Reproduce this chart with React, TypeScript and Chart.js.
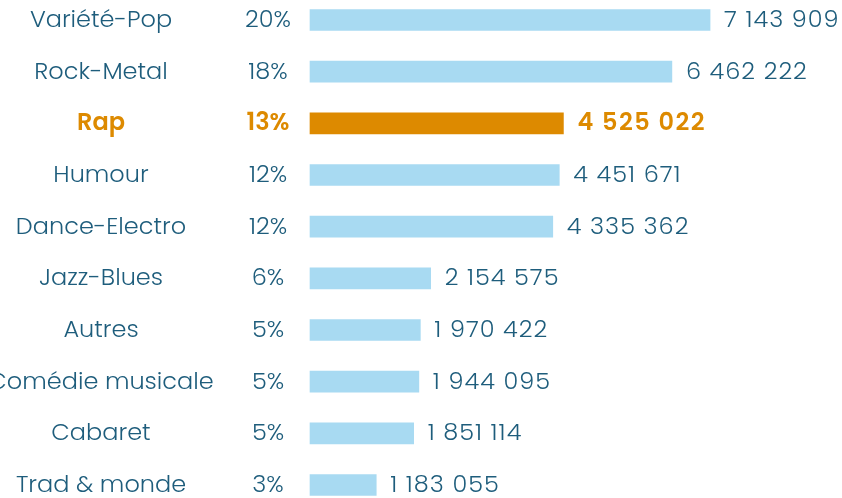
import React, { useEffect, useRef } from "react";
import { Chart, registerables } from "chart.js";

Chart.register(...registerables);

const categories = [
  "Variété-Pop",
  "Rock-Metal",
  "Rap",
  "Humour",
  "Dance-Electro",
  "Jazz-Blues",
  "Autres",
  "Comédie musicale",
  "Cabaret",
  "Trad & monde",
];
const values = [7143909, 6462222, 4525022, 4451671, 4335362, 2154575, 1970422, 1944095, 1851114, 1183055];
const percents = [20, 18, 13, 12, 12, 6, 5, 5, 5, 3];
const highlight = "Rap";

const BLUE = "#a8daf2";
const ORANGE = "#dd8a00";
const TEXT = "#1e5d7c";
const FONT_FAMILY = "Poppins, 'Open Sans', Lato, sans-serif";

const fmt = (v: number) => String(v).replace(/\B(?=(\d{3})+(?!\d))/g, " ");

const labelPlugin = {
  id: "sideLabels",
  afterDatasetsDraw(chart: any) {
    const ctx = chart.ctx;
    const meta = chart.getDatasetMeta(0);
    ctx.save();
    ctx.textBaseline = "middle";
    meta.data.forEach((bar: any, i: number) => {
      const hl = categories[i] === highlight;
      ctx.fillStyle = hl ? ORANGE : TEXT;
      ctx.font = `${hl ? 600 : 300} 24px ${FONT_FAMILY}`;
      const y = bar.y + 1;
      ctx.letterSpacing = "0px";
      ctx.textAlign = "center";
      ctx.fillText(categories[i], 101, y);
      ctx.fillText(percents[i] + "%", 268, y);
      ctx.textAlign = "left";
      ctx.letterSpacing = hl ? "1.5px" : "1px";
      ctx.fillText(fmt(values[i]), bar.x + 14, y);
    });
    ctx.restore();
  },
};

export default function App() {
  const ref = useRef<HTMLCanvasElement>(null);
  useEffect(() => {
    if (!ref.current) return;
    const chart = new Chart(ref.current, {
      type: "bar",
      data: {
        labels: categories,
        datasets: [
          {
            data: values,
            backgroundColor: categories.map((c) => (c === highlight ? ORANGE : BLUE)),
            borderWidth: 0,
            barThickness: 21,
            clip: false as any,
          },
        ],
      },
      options: {
        indexAxis: "y",
        animation: false,
        responsive: false,
        maintainAspectRatio: false,
        layout: { padding: { left: 310, right: 0, top: 20, bottom: 13 } },
        plugins: { legend: { display: false }, tooltip: { enabled: false } },
        scales: {
          x: { display: false, min: 0, max: 9500000 },
          y: { display: false, offset: false },
        },
      },
      plugins: [labelPlugin],
    });
    return () => chart.destroy();
  }, []);
  return (
    <div style={{ position: "fixed", left: 0, top: 0, width: 842, height: 498, background: "#fff" }}>
      <canvas ref={ref} width={842} height={498} style={{ display: "block" }} />
    </div>
  );
}
